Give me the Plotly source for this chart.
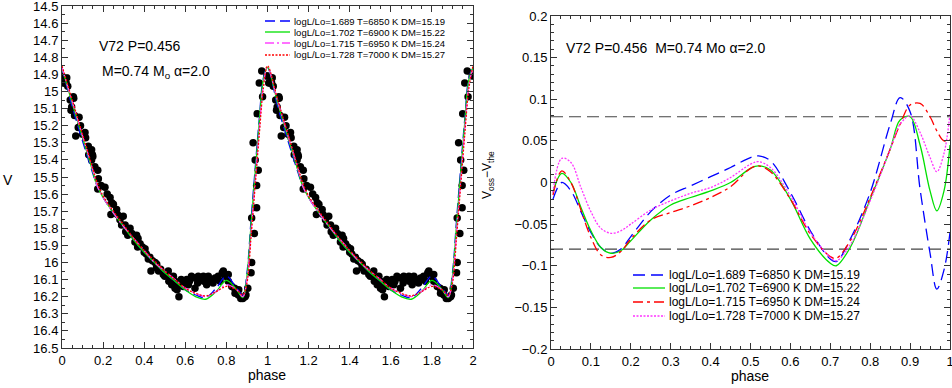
import plotly.graph_objects as go
import numpy as np

# observed V light curve of V72, one pulsation cycle (phase, V mag)
obs_phase = [0.000, 0.006, 0.023, 0.028, 0.044, 0.047, 0.055, 0.067, 0.079, 0.083,
             0.112, 0.115, 0.128, 0.144, 0.148, 0.144, 0.150, 0.174, 0.177, 0.174,
             0.209, 0.234, 0.242, 0.238, 0.266, 0.282, 0.298, 0.307, 0.310, 0.331,
             0.363, 0.355, 0.368, 0.391, 0.404, 0.400, 0.428, 0.453, 0.461, 0.433,
             0.493, 0.517, 0.525, 0.534, 0.550, 0.569, 0.542, 0.583, 0.566, 0.607,
             0.615, 0.647, 0.647, 0.663, 0.688, 0.712, 0.704, 0.728, 0.745, 0.769,
             0.785, 0.809, 0.809, 0.826, 0.842, 0.858, 0.891, 0.904, 0.920, 0.923,
             0.936, 0.923, 0.947, 0.947, 0.955, 0.950, 0.960, 0.972, 0.976, 0.996,
             0.620, 0.630, 0.660, 0.670, 0.690, 0.700, 0.720, 0.735, 0.750, 0.760,
             0.780, 0.795, 0.600, 0.580, 0.590, 0.550, 0.500, 0.480, 0.470, 0.520,
             0.560, 0.850, 0.870, 0.880, 0.860, 0.840, 0.895, 0.020, 0.040, 0.090,
             0.100, 0.130, 0.160, 0.190, 0.220, 0.250, 0.270, 0.290, 0.320, 0.340,
             0.370, 0.380, 0.410, 0.420, 0.440, 0.460, 0.012, 0.057, 0.061, 0.930,
             0.940]
obs_v = [14.91, 14.95, 14.92, 14.97, 15.11, 15.09, 15.03, 15.26, 15.21, 15.15,
         15.24, 15.27, 15.32, 15.34, 15.37, 15.40, 15.38, 15.46, 15.51, 15.57,
         15.56, 15.62, 15.65, 15.72, 15.69, 15.75, 15.73, 15.78, 15.82, 15.80,
         15.84, 15.88, 15.91, 15.91, 15.92, 15.94, 15.97, 16.00, 16.01, 16.05,
         16.07, 16.05, 16.09, 16.13, 16.15, 16.20, 16.08, 16.12, 16.13, 16.10,
         16.13, 16.09, 16.15, 16.08, 16.08, 16.08, 16.13, 16.10, 16.09, 16.11,
         16.05, 16.07, 16.11, 16.14, 16.18, 16.19, 16.20, 16.15, 16.06, 16.00,
         15.83, 15.74, 15.68, 15.55, 15.46, 15.13, 14.95, 14.88, 15.03, 14.91,
         16.11, 16.08, 16.12, 16.10, 16.11, 16.09, 16.10, 16.12, 16.10, 16.08,
         16.06, 16.08, 16.12, 16.10, 16.14, 16.11, 16.08, 16.04, 16.05, 16.11,
         16.16, 16.17, 16.21, 16.21, 16.16, 16.15, 16.19, 14.95, 15.05, 15.20,
         15.25, 15.37, 15.44, 15.55, 15.60, 15.66, 15.72, 15.78, 15.84, 15.83,
         15.86, 15.89, 15.95, 15.98, 15.99, 16.03, 14.95, 15.04, 15.14, 15.30,
         15.40]

# model light curves (one cycle)
mod_phase = [0, 0.05, 0.1, 0.15, 0.17, 0.2, 0.25, 0.3, 0.35, 0.4, 0.45, 0.5, 0.55,
             0.6, 0.65, 0.7, 0.75, 0.8, 0.85, 0.88, 0.9, 0.92, 0.94, 0.96, 0.98, 1.0]
mod_blue = [14.86, 15.09, 15.29, 15.48, 15.55, 15.62, 15.71, 15.79, 15.87, 15.94, 16.00, 16.06, 16.11,
            16.16, 16.19, 16.205, 16.15, 16.08, 16.15, 16.19, 16.06, 15.75, 15.45, 15.16, 14.92, 14.86]
mod_green = [14.86, 15.07, 15.27, 15.47, 15.55, 15.62, 15.71, 15.79, 15.87, 15.94, 16.00, 16.06, 16.11,
             16.16, 16.20, 16.215, 16.17, 16.105, 16.16, 16.205, 16.08, 15.78, 15.48, 15.18, 14.93, 14.86]
mod_magenta = [14.86, 15.06, 15.26, 15.46, 15.55, 15.62, 15.71, 15.79, 15.86, 15.93, 16.00, 16.05, 16.10,
               16.15, 16.18, 16.20, 16.17, 16.13, 16.16, 16.20, 16.10, 15.82, 15.52, 15.22, 14.96, 14.86]
mod_red = [14.85, 15.05, 15.25, 15.45, 15.53, 15.61, 15.70, 15.78, 15.86, 15.93, 15.99, 16.05, 16.10,
           16.15, 16.18, 16.195, 16.17, 16.14, 16.16, 16.19, 16.12, 15.85, 15.55, 15.25, 14.98, 14.85]

# residuals V_oss - V_the
res_phase = [0.005, 0.027, 0.05, 0.075, 0.1, 0.125, 0.15, 0.175, 0.2, 0.25, 0.3, 0.35, 0.4, 0.45,
             0.5, 0.52, 0.55, 0.6, 0.65, 0.7, 0.715, 0.75, 0.8, 0.85, 0.875, 0.9, 0.925, 0.95,
             0.967, 0.985, 1.0]
res_blue = [-0.02, 0.0, -0.01, -0.035, -0.06, -0.078, -0.085, -0.08, -0.065, -0.035, -0.015, -0.004,
            0.007, 0.018, 0.03, 0.032, 0.026, -0.012, -0.058, -0.092, -0.095, -0.068, -0.012, 0.07,
            0.102, 0.085, -0.008, -0.085, -0.128, -0.105, -0.06]
res_green = [-0.012, 0.011, 0.0, -0.03, -0.058, -0.078, -0.085, -0.082, -0.07, -0.045, -0.027, -0.018,
             -0.01, 0.0, 0.017, 0.02, 0.015, -0.02, -0.068, -0.097, -0.1, -0.078, -0.02, 0.04,
             0.075, 0.079, 0.045, -0.01, -0.034, -0.01, 0.045]
res_red = [-0.015, 0.014, 0.0, -0.033, -0.066, -0.087, -0.09, -0.083, -0.068, -0.045, -0.036, -0.028,
           -0.018, -0.005, 0.017, 0.02, 0.013, -0.02, -0.062, -0.089, -0.091, -0.07, -0.018, 0.04,
           0.07, 0.093, 0.095, 0.079, 0.062, 0.05, 0.052]
res_magenta = [-0.012, 0.029, 0.024, -0.006, -0.035, -0.055, -0.061, -0.058, -0.05, -0.033, -0.022,
               -0.013, -0.006, 0.006, 0.022, 0.025, 0.018, -0.016, -0.06, -0.09, -0.094, -0.075,
               -0.022, 0.04, 0.07, 0.08, 0.06, 0.03, 0.013, 0.035, 0.083]
band = [0.079, -0.08]

labels = ["logL/Lo=1.689 T=6850 K DM=15.19", "logL/Lo=1.702 T=6900 K DM=15.22",
          "logL/Lo=1.715 T=6950 K DM=15.24", "logL/Lo=1.728 T=7000 K DM=15.27"]

FONT = "Liberation Sans, Arial, sans-serif"
W, H = 952, 388

fig = go.Figure()

# --- left panel: light curve over two cycles
ph = np.array(obs_phase)
fig.add_trace(go.Scatter(x=np.concatenate([ph, ph + 1]), y=obs_v + obs_v, mode="markers",
                         marker=dict(color="black", size=7.5), showlegend=False,
                         xaxis="x", yaxis="y"))

mp = np.array(mod_phase)
two_cycles = np.concatenate([mp[:-1], mp + 1])
left_styles = [(mod_blue, "#0000ff", "10px,5px"), (mod_green, "#00e000", "solid"),
               (mod_magenta, "#ff44ff", "9px,3px,2px,3px"), (mod_red, "#ff0000", "2px,1.5px")]
for vals, col, dash in left_styles:
    fig.add_trace(go.Scatter(x=two_cycles, y=vals[:-1] + vals, mode="lines", showlegend=False,
                             line=dict(color=col, dash=dash, width=1.3, shape="spline"),
                             xaxis="x", yaxis="y"))

# --- right panel: residuals
for b in band:
    fig.add_trace(go.Scatter(x=[0, 1], y=[b, b], mode="lines", showlegend=False,
                             line=dict(color="#444444", dash="12px,6px", width=1.2),
                             xaxis="x2", yaxis="y2"))
right_styles = [(res_blue, "#0000ff", "12px,6px"), (res_green, "#00e000", "solid"),
                (res_red, "#ff0000", "10px,4px,3px,4px"), (res_magenta, "#ff33ff", "2px,1.5px")]
for vals, col, dash in right_styles:
    fig.add_trace(go.Scatter(x=res_phase, y=vals, mode="lines", showlegend=False,
                             line=dict(color=col, dash=dash, width=1.3, shape="spline"),
                             xaxis="x2", yaxis="y2"))


def axis(domain, rng, dtick, minor, anchor):
    return dict(domain=domain, range=rng, dtick=dtick, tick0=0, anchor=anchor, automargin=False,
                showline=True, linecolor="#333333", linewidth=1, mirror="ticks",
                ticks="inside", ticklen=6, tickcolor="#333333", showgrid=False, zeroline=False,
                ticklabeloverflow="allow",
                minor=dict(ticks="inside", ticklen=3, dtick=minor, tick0=0, tickcolor="#333333"),
                tickfont=dict(family=FONT, size=13, color="black"))


fig.update_layout(
    width=W, height=H, margin=dict(l=0, r=0, t=0, b=0),
    paper_bgcolor="white", plot_bgcolor="white",
    font=dict(family=FONT, color="black"), showlegend=False,
    xaxis=axis([62 / W, 473 / W], [0, 2], 0.2, 0.05, "y"),
    yaxis=axis([1 - 348 / H, 1 - 6 / H], [16.5, 14.5], 0.1, 0.05, "x"),
    xaxis2=axis([551 / W, 950 / W], [0, 1], 0.1, 0.025, "y2"),
    yaxis2=axis([1 - 349 / H, 1 - 16 / H], [-0.2, 0.2], 0.05, 0.01, "x2"),
)


def legend_box(x0, x1, ys, styles, size):
    # hand-drawn legend: line sample + label per model
    for y, (vals, col, dash), lab in zip(ys, styles, labels):
        fig.add_shape(type="line", xref="paper", yref="paper",
                      x0=x0 / W, x1=x1 / W, y0=1 - y / H, y1=1 - y / H,
                      line=dict(color=col, dash=dash, width=1.3))
        fig.add_annotation(x=(x1 + 2) / W, y=1 - y / H, xref="paper", yref="paper", text=lab,
                           showarrow=False, xanchor="left", yanchor="middle",
                           font=dict(family=FONT, size=size, color="black"))


legend_box(265, 290, [21, 32, 43, 55], left_styles, 9.5)
legend_box(633, 665, [275, 288, 302, 316], right_styles, 12)

ann = [
    dict(x=97, y=46, text="V72 P=0.456", size=14, anchor="left", angle=0),
    dict(x=100, y=72, text="M=0.74 M<sub>o</sub> α=2.0", size=14, anchor="left", angle=0),
    dict(x=564, y=48, text="V72 P=0.456  M=0.74 Mo α=2.0", size=14, anchor="left", angle=0),
    dict(x=8, y=180, text="V", size=14, anchor="center", angle=0),
    dict(x=267, y=375, text="phase", size=14, anchor="center", angle=0),
    dict(x=750, y=376, text="phase", size=14, anchor="center", angle=0),
    dict(x=488, y=175, text="V<sub>oss</sub>−V<sub>the</sub>", size=12, anchor="center", angle=-90),
]
for a in ann:
    fig.add_annotation(x=a["x"] / W, y=1 - a["y"] / H, xref="paper", yref="paper",
                       text=a["text"], showarrow=False, xanchor=a["anchor"], yanchor="middle",
                       textangle=a["angle"], font=dict(family=FONT, size=a["size"], color="black"))

# page body margin would push the figure 8px off the window corner
fig.write_html("out.html", config={"displayModeBar": False},
               post_script="document.body.style.margin='0';")
